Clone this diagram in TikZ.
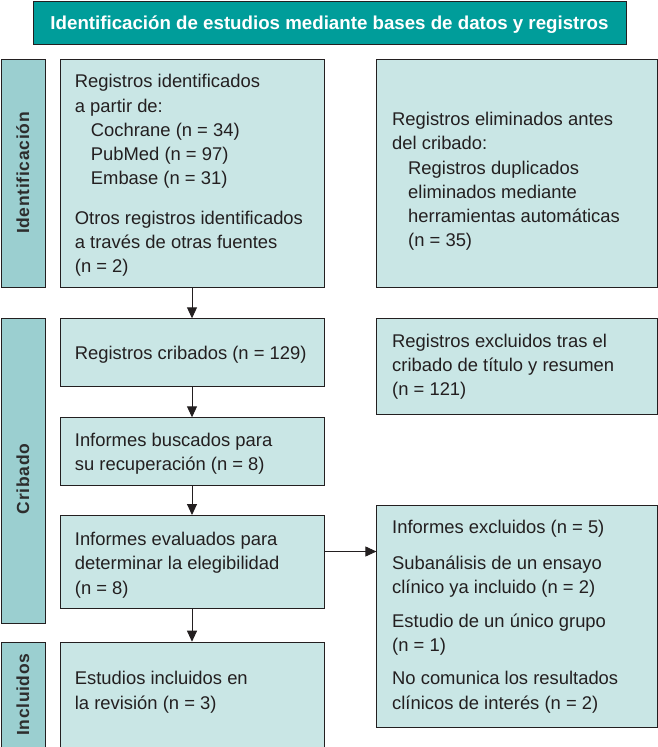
\documentclass[tikz,border=0pt]{standalone}
\usepackage{fontspec}
\setmainfont{Liberation Sans}
\newfontfamily\sidefont[LetterSpace=4]{Liberation Sans}
\usetikzlibrary{arrows.meta}
\definecolor{teal1}{RGB}{0,157,154}
\definecolor{lightbox}{RGB}{201,230,229}
\definecolor{sidebar}{RGB}{155,207,208}
\definecolor{ink}{RGB}{35,31,32}
\definecolor{sideink}{RGB}{45,45,45}
\tikzset{
  box/.style={draw=ink, line width=0.9pt, fill=lightbox, inner sep=0pt, anchor=north west},
  sidebox/.style={draw=ink, line width=0.9pt, fill=sidebar, inner sep=0pt, anchor=north west},
  hdrbox/.style={draw=ink, line width=0.9pt, fill=teal1, inner sep=0pt, anchor=north west},
  txt/.style={anchor=base west, align=left, inner sep=0pt, text=ink,
    font=\fontsize{18.4}{24.2}\selectfont},
  sidetxt/.style={anchor=base, rotate=90, inner sep=0pt, text=sideink,
    font=\sidefont\bfseries\fontsize{17.5}{19}\selectfont},
  arr/.style={draw=ink, line width=0.9pt, -{Triangle[width=10pt,length=11pt]}}
}
\newcommand{\ind}{\hspace*{16pt}}
\begin{document}
\begin{tikzpicture}[x=1pt,y=-1pt]
\useasboundingbox (0,0) rectangle (658,747);
% header
\node[hdrbox, minimum width=593.3pt, minimum height=43.6pt] (hdr) at (32.7,0.7) {};
\node[anchor=base, inner sep=0pt, text=white, font=\bfseries\fontsize{18.7}{22}\selectfont] (hdrt) at (329.5,29) {Identificación de estudios mediante bases de datos y registros};
% side bars
\node[sidebox, minimum width=44pt, minimum height=228pt] (sId) at (0.5,59.3) {};
\node[sidebox, minimum width=44pt, minimum height=304.4pt] (sCr) at (0.5,318.3) {};
\node[sidebox, minimum width=44pt, minimum height=104.8pt] (sIn) at (0.5,641.7) {};
\node[sidetxt] (tId) at (29,173) {Identificación};
\node[sidetxt] (tCr) at (29,479) {Cribado};
\node[sidetxt] (tIn) at (29,694.7) {Incluidos};
% left column
\node[box, minimum width=263.9pt, minimum height=228pt] (b1) at (59.6,59.3) {};
\node[box, minimum width=263.9pt, minimum height=68pt] (b2) at (59.6,318.3) {};
\node[box, minimum width=263.9pt, minimum height=67.7pt] (b3) at (59.6,417.3) {};
\node[box, minimum width=263.9pt, minimum height=93.3pt] (b4) at (59.6,515) {};
\node[box, minimum width=263.9pt, minimum height=104.8pt] (b5) at (59.6,641.7) {};
% right column
\node[box, minimum width=280.6pt, minimum height=228pt] (r1) at (376.4,59.3) {};
\node[box, minimum width=280.6pt, minimum height=96pt] (r2) at (376.4,318.3) {};
\node[box, minimum width=280.6pt, minimum height=221.4pt] (r4) at (376.4,505.3) {};
% texts (anchored at the baseline of their last line)
\node[txt] (t1) at (74.7,272.7) {Registros identificados\\
a partir de:\\
\ind Cochrane (n = 34)\\
\ind PubMed (n = 97)\\
\ind Embase (n = 31)\\[15.5pt]
Otros registros identificados\\
a través de otras fuentes\\
(n = 2)};
\node[txt] (tr1) at (392,246.7) {Registros eliminados antes\\
del cribado:\\
\ind Registros duplicados\\
\ind eliminados mediante\\
\ind herramientas automáticas\\
\ind (n = 35)};
\node[txt] (t2) at (74.7,359) {Registros cribados (n = 129)};
\node[txt] (tr2) at (392,395.7) {Registros excluidos tras el\\
cribado de título y resumen\\
(n = 121)};
\node[txt] (t3) at (74.7,470.7) {Informes buscados para\\
su recuperación (n = 8)};
\node[txt] (t4) at (74.7,594) {Informes evaluados para\\
determinar la elegibilidad\\
(n = 8)};
\node[txt] (tr4) at (392,709) {Informes excluidos (n = 5)\\[11.8pt]
Subanálisis de un ensayo\\
clínico ya incluido (n = 2)\\[9.2pt]
Estudio de un único grupo\\
(n = 1)\\[9.1pt]
No comunica los resultados\\
clínicos de interés (n = 2)};
\node[txt] (t5) at (74.7,709) {Estudios incluidos en\\
la revisión (n = 3)};
% arrows
\draw[arr] (b1.south) -- (b2.north);
\draw[arr] (b2.south) -- (b3.north);
\draw[arr] (b3.south) -- (b4.north);
\draw[arr] (b4.south) -- (b5.north);
\draw[arr] ([yshift=10.6pt]b4.east) coordinate (hs) -- (hs -| r4.west);
\end{tikzpicture}
\end{document}
